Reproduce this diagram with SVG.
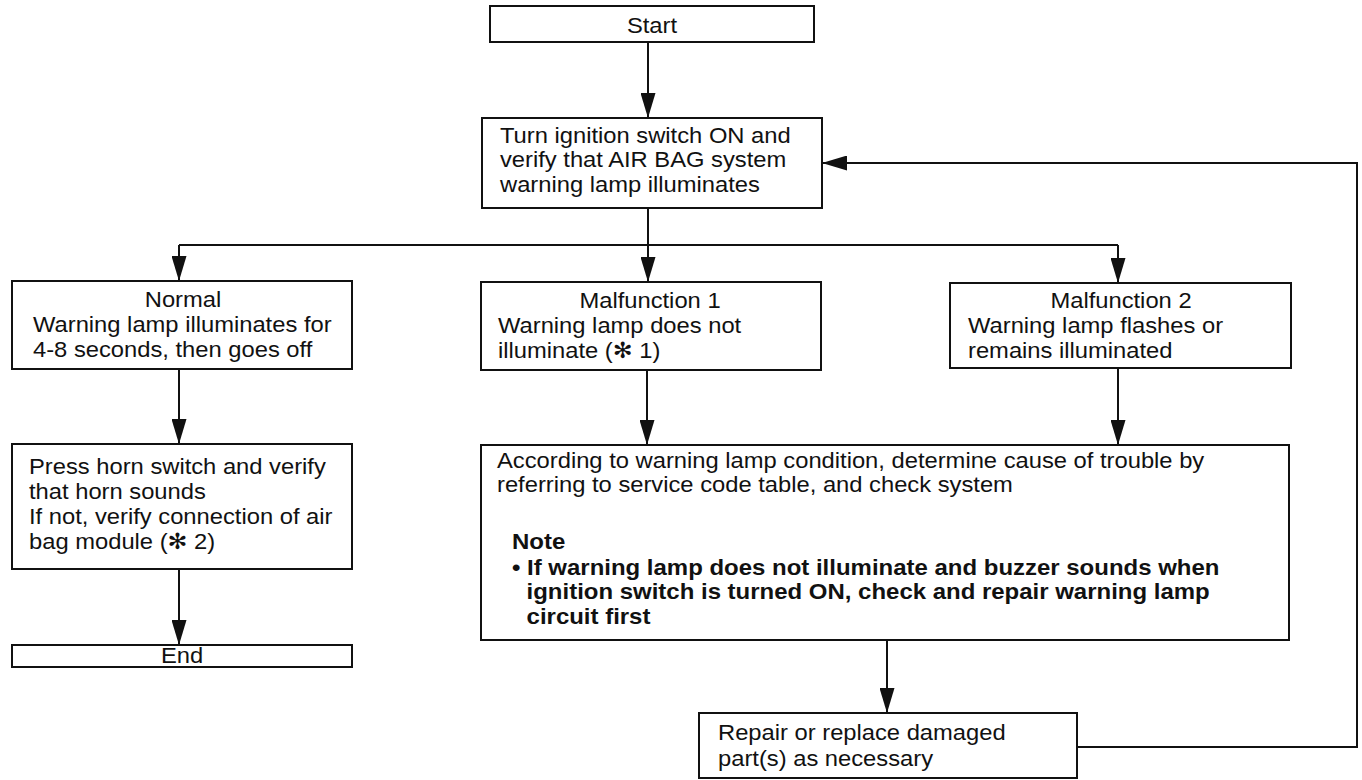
<svg xmlns="http://www.w3.org/2000/svg" width="1362" height="780" viewBox="0 0 1362 780">
<style>
.box{fill:#fff;stroke:#111;stroke-width:2}
.ln{fill:none;stroke:#111;stroke-width:2}
text{font-family:"Liberation Sans","DejaVu Sans",Arial,sans-serif;font-size:22px;fill:#111}
.c{text-anchor:middle}
.b{font-weight:bold;font-size:22.2px}
</style>
<defs>
<marker id="ah" viewBox="0 0 25 15" refX="25" refY="7.5" markerWidth="25" markerHeight="15" markerUnits="userSpaceOnUse" orient="auto">
<path d="M0,0 L25,7.5 L0,15 z" fill="#111"/>
</marker>
</defs>
<rect width="1362" height="780" fill="#fff"/>
<g id="connectors">
<path class="ln" d="M648,42 V118" marker-end="url(#ah)"/>
<path class="ln" d="M648,208 V282" marker-end="url(#ah)"/>
<path class="ln" d="M179,245 H1118"/>
<path class="ln" d="M179,245 V281" marker-end="url(#ah)"/>
<path class="ln" d="M1118,245 V283" marker-end="url(#ah)"/>
<path class="ln" d="M179,369 V444" marker-end="url(#ah)"/>
<path class="ln" d="M179,569 V645" marker-end="url(#ah)"/>
<path class="ln" d="M647,370 V445" marker-end="url(#ah)"/>
<path class="ln" d="M1118,368 V445" marker-end="url(#ah)"/>
<path class="ln" d="M887,640 V713" marker-end="url(#ah)"/>
<path class="ln" d="M1077,747 H1357 V163 H822" marker-end="url(#ah)"/>
</g>
<g id="start">
<rect class="box" x="490" y="6" width="324" height="36"/>
<g transform="translate(652 0) scale(1.08 1)"><text class="c" x="0" y="33">Start</text></g>
</g>
<g id="ignition">
<rect class="box" x="482" y="118" width="340" height="90"/>
<g transform="translate(500 0) scale(1.08 1)"><text><tspan x="0" y="143">Turn ignition switch ON and</tspan><tspan x="0" y="167.5">verify that AIR BAG system</tspan><tspan x="0" y="192">warning lamp illuminates</tspan></text></g>
</g>
<g id="normal">
<rect class="box" x="12" y="281" width="340" height="88"/>
<g transform="translate(183 0) scale(1.08 1)"><text class="c" x="0" y="307">Normal</text></g>
<g transform="translate(33 0) scale(1.08 1)"><text><tspan x="0" y="332">Warning lamp illuminates for</tspan><tspan x="0" y="357">4-8 seconds, then goes off</tspan></text></g>
</g>
<g id="malfunction1">
<rect class="box" x="481" y="282" width="340" height="88"/>
<g transform="translate(650 0) scale(1.08 1)"><text class="c" x="0" y="308">Malfunction 1</text></g>
<g transform="translate(498 0) scale(1.08 1)"><text><tspan x="0" y="333">Warning lamp does not</tspan><tspan x="0" y="358">illuminate (✻ 1)</tspan></text></g>
</g>
<g id="malfunction2">
<rect class="box" x="950" y="283" width="341" height="85"/>
<g transform="translate(1121 0) scale(1.08 1)"><text class="c" x="0" y="308">Malfunction 2</text></g>
<g transform="translate(968 0) scale(1.08 1)"><text><tspan x="0" y="333">Warning lamp flashes or</tspan><tspan x="0" y="358">remains illuminated</tspan></text></g>
</g>
<g id="horn">
<rect class="box" x="12" y="444" width="340" height="125"/>
<g transform="translate(29 0) scale(1.08 1)"><text><tspan x="0" y="474">Press horn switch and verify</tspan><tspan x="0" y="499">that horn sounds</tspan><tspan x="0" y="524">If not, verify connection of air</tspan><tspan x="0" y="549">bag module (✻ 2)</tspan></text></g>
</g>
<g id="end">
<rect class="box" x="12" y="645" width="340" height="22"/>
<g transform="translate(182 0) scale(1.08 1)"><text class="c" x="0" y="663">End</text></g>
</g>
<g id="check">
<rect class="box" x="481" y="445" width="808" height="195"/>
<g transform="translate(497 0) scale(1.08 1)"><text><tspan x="0" y="468">According to warning lamp condition, determine cause of trouble by</tspan><tspan x="0" y="492.5">referring to service code table, and check system</tspan></text></g>
<g transform="translate(512 0) scale(1.08 1)"><text class="b"><tspan x="0" y="549">Note</tspan><tspan x="0" y="575">• If warning lamp does not illuminate and buzzer sounds when</tspan><tspan x="13.5" y="599.5">ignition switch is turned ON, check and repair warning lamp</tspan><tspan x="13.5" y="624">circuit first</tspan></text></g>
</g>
<g id="repair">
<rect class="box" x="699" y="713" width="378" height="65"/>
<g transform="translate(718 0) scale(1.08 1)"><text><tspan x="0" y="740">Repair or replace damaged</tspan><tspan x="0" y="766">part(s) as necessary</tspan></text></g>
</g>
</svg>
